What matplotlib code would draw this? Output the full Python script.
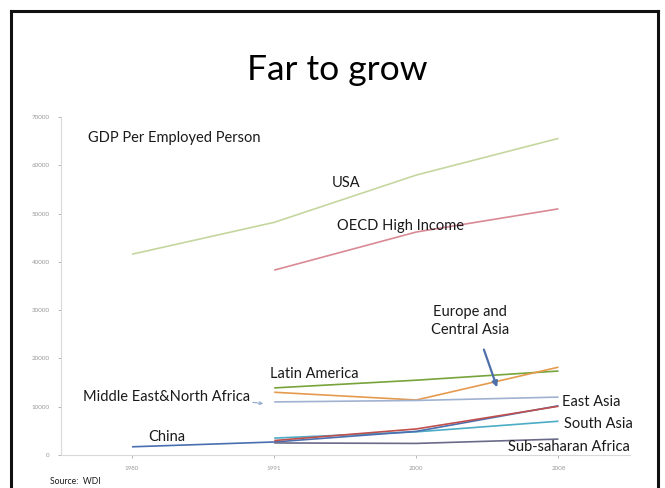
import numpy as np
import matplotlib
matplotlib.use("Agg")
import matplotlib.pyplot as plt
from matplotlib.lines import Line2D

plt.rcParams['font.family'] = ['Lato', 'DejaVu Sans']

years = ['1980', '1991', '2000', '2008']
nan = np.nan

usa = [41600, 48200, 58000, 65600]
oecd = [nan, 38300, 46200, 51000]
latin_america = [nan, 13900, 15500, 17400]
europe_central_asia = [nan, 13000, 11400, 18200]
mena = [nan, 11000, 11300, 12000]
east_asia = [nan, 3000, 5400, 10100]
china = [1700, 2700, 4900, 10200]
south_asia = [nan, 3500, 4800, 7000]
ssa = [nan, 2500, 2400, 3300]

yticks = [0, 10000, 20000, 30000, 40000, 50000, 60000, 70000]

series = [
    (usa, '#c4d79e'),
    (oecd, '#d98a94'),
    (latin_america, '#77a33a'),
    (europe_central_asia, '#e59a4e'),
    (mena, '#a0b2d2'),
    (south_asia, '#4bacc6'),
    (china, '#4a6fb0'),
    (east_asia, '#c0504d'),
    (ssa, '#6a6a88'),
]

fig = plt.figure(figsize=(6.65, 4.88), dpi=100)
ax = fig.add_axes([0.0917, 0.0676, 0.855, 0.6924])

x = np.arange(len(years))
for vals, col in series:
    ax.plot(x, vals, color=col, lw=1.2, solid_capstyle='butt')

ax.set_xlim(-0.5, len(years) - 0.5)
ax.set_ylim(0, 70000)
ax.set_xticks(x)
ax.set_xticklabels(years)
ax.set_yticks(yticks)
ax.set_yticklabels([str(v) for v in yticks])
ax.tick_params(labelsize=4.5, colors='#999999', length=2, width=0.5, pad=6)
for s in ['top', 'right']:
    ax.spines[s].set_visible(False)
for s in ['left', 'bottom']:
    ax.spines[s].set_color('#d9d9d9')
    ax.spines[s].set_linewidth(0.8)

lab = dict(fontsize=10.5, color='#1a1a1a', va='center')
fig.text(88 / 665, 1 - 138 / 488, 'GDP Per Employed Person', **lab)
fig.text(332 / 665, 1 - 183 / 488, 'USA', **lab)
fig.text(337 / 665, 1 - 226 / 488, 'OECD High Income', **lab)
fig.text(470 / 665, 1 - 321 / 488, 'Europe and\nCentral Asia', ha='center',
         fontsize=10.5, color='#1a1a1a', va='center', linespacing=1.4)
fig.text(270 / 665, 1 - 374 / 488, 'Latin America', **lab)
fig.text(83 / 665, 1 - 397 / 488, 'Middle East&North Africa', **lab)
fig.text(148 / 665, 1 - 437 / 488, 'China', **lab)
fig.text(562 / 665, 1 - 402 / 488, 'East Asia', **lab)
fig.text(564 / 665, 1 - 424 / 488, 'South Asia', **lab)
fig.text(508 / 665, 1 - 447 / 488, 'Sub-saharan Africa', **lab)

fig.text(337 / 665, 1 - 70 / 488, 'Far to grow', ha='center', va='center',
         fontsize=25.5, color='#000000')
fig.text(50 / 665, 1 - 481 / 488, 'Source:  WDI', fontsize=6.2,
         color='#1a1a1a', va='center')

# arrows
fig.add_artist(matplotlib.patches.FancyArrowPatch(
    (483 / 665, 1 - 347 / 488), (498 / 665, 1 - 390 / 488),
    transform=fig.transFigure, arrowstyle='-|>', mutation_scale=8,
    color='#4f6fa8', lw=1.6))
fig.add_artist(matplotlib.patches.FancyArrowPatch(
    (250 / 665, 1 - 402 / 488), (266 / 665, 1 - 404 / 488),
    transform=fig.transFigure, arrowstyle='->', mutation_scale=5,
    color='#8fa8cc', lw=0.8))

# slide frame
for xs, ys in [([11, 11], [11, 488]), ([11, 658], [11, 11]), ([658, 658], [11, 488])]:
    fig.add_artist(Line2D([v / 665 for v in xs], [1 - v / 488 for v in ys],
                          transform=fig.transFigure, color='#111111', lw=2.2))

fig.savefig('out.png', dpi=100)
